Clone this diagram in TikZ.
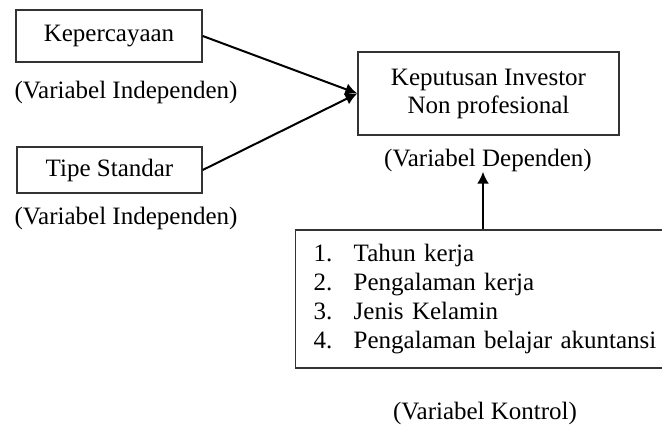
\documentclass[tikz,border=0pt]{standalone}
\usepackage{fontspec}
\setmainfont{Liberation Serif}
\usetikzlibrary{arrows.meta,positioning}
\tikzset{
  varbox/.style={draw=black!80,line width=.7pt,align=center,inner sep=0pt,font=\fontsize{12.5}{14}\selectfont},
  varlabel/.style={inner sep=0pt,font=\fontsize{12.5}{14}\selectfont},
  flow/.style={-{Latex[length=6pt,width=6pt]},line width=1pt},
}

\begin{document}
\begin{tikzpicture}[x=0.5pt,y=-0.5pt]
    \useasboundingbox (0,0) rectangle (662,426);
    \node[varbox,minimum width=93pt,minimum height=26pt] (kep) at (109,36) {Kepercayaan};
    \node[varlabel] (kepvar) at (126,92) {(Variabel Independen)};
    \node[varbox,minimum width=92.5pt,minimum height=23pt] (tipe) at (109.5,170) {Tipe Standar};
    \node[varlabel] (tipevar) at (126,218) {(Variabel Independen)};
    \node[varbox,minimum width=130.5pt,minimum height=41.5pt] (kip) at (488.5,93.5) {Keputusan Investor\\Non profesional};
    \node[varlabel] (kipvar) at (488,160) {(Variabel Dependen)};
    \node[varbox,anchor=west,minimum height=69pt,inner xsep=9pt,text width=182pt,align=left,
      font=\fontsize{12.5}{14.5}\selectfont] (kontrol) at (295,299)
      {\makebox[20pt][l]{1.}Tahun kerja\\
       \makebox[20pt][l]{2.}Pengalaman kerja\\
       \makebox[20pt][l]{3.}Jenis Kelamin\\
       \makebox[20pt][l]{4.}Pengalaman belajar akuntansi};
    \node[varlabel] (kontrolvar) at (485,413) {(Variabel Kontrol)};
    \draw[flow] (kep.east)--(kip.west);\draw[flow] (tipe.east)--(kip.west);
    \draw[flow] (kontrol.west)++(94pt,0) coordinate (up) (up |- kontrol.north)--(up |- kipvar.south);
  \end{tikzpicture}
\end{document}
